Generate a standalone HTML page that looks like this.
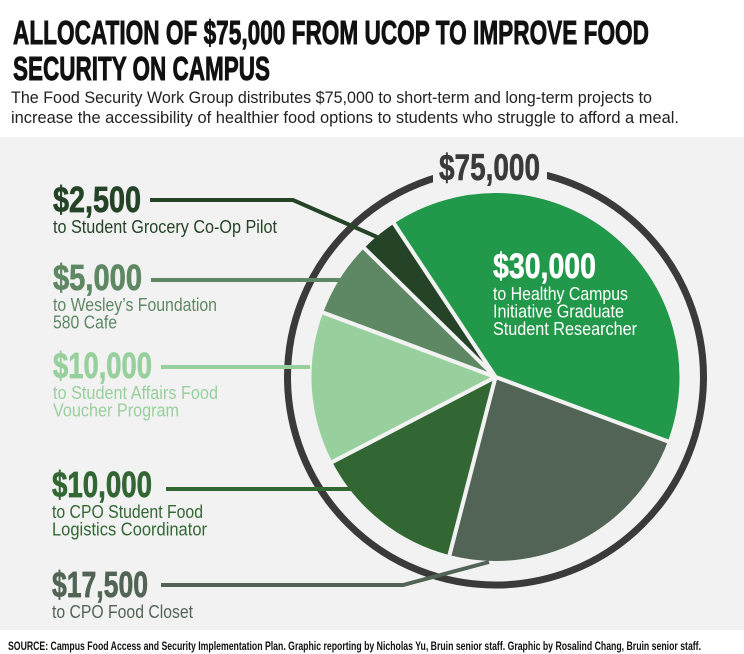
<!DOCTYPE html>
<html><head><meta charset="utf-8"><style>
html,body{margin:0;padding:0;background:#fff;}
svg{display:block;}
text{font-family:"Liberation Sans Narrow","Liberation Sans",sans-serif;}
</style></head><body>
<svg width="744" height="654" viewBox="0 0 744 654" xmlns="http://www.w3.org/2000/svg">
<rect x="0" y="0" width="744" height="654" fill="#fff"/>
<rect x="0" y="137" width="744" height="493" fill="#f2f2f2"/>
<text x="13" y="44" font-size="33" font-weight="bold" fill="#111" stroke="#111" stroke-width="0.9" textLength="636" lengthAdjust="spacingAndGlyphs">ALLOCATION OF $75,000 FROM UCOP TO IMPROVE FOOD</text>
<text x="13" y="80" font-size="33" font-weight="bold" fill="#111" stroke="#111" stroke-width="0.9" textLength="257" lengthAdjust="spacingAndGlyphs">SECURITY ON CAMPUS</text>
<text x="11" y="103" font-size="17" fill="#222" textLength="641" lengthAdjust="spacingAndGlyphs">The Food Security Work Group distributes $75,000 to short-term and long-term projects to</text>
<text x="11" y="123" font-size="17" fill="#222" textLength="668" lengthAdjust="spacingAndGlyphs">increase the accessibility of healthier food options to students who struggle to afford a meal.</text>
<g id="ring"></g>
<g id="pie"></g>
<g id="labels"></g>
<text x="8" y="650" font-size="11.5" font-weight="bold" fill="#111" textLength="693" lengthAdjust="spacingAndGlyphs">SOURCE: Campus Food Access and Security Implementation Plan. Graphic reporting by Nicholas Yu, Bruin senior staff. Graphic by Rosalind Chang, Bruin senior staff.</text>
</svg>
<script>
const categories = ["Healthy Campus Initiative Graduate Student Researcher","CPO Food Closet","CPO Student Food Logistics Coordinator","Student Affairs Food Voucher Program","Wesley's Foundation 580 Cafe","Student Grocery Co-Op Pilot"];
const amounts = [30000, 17500, 10000, 10000, 5000, 2500];
const amountLabels = ["$30,000","$17,500","$10,000","$10,000","$5,000","$2,500"];
const colors = ["#22984a","#526455","#326734","#98d09d","#5e8864","#254327"];
const totalLabel = "$75,000";

const NS="http://www.w3.org/2000/svg";
const cx=495.5, cy=377, r=186, startDeg=-33.5;
const total=amounts.reduce((a,b)=>a+b,0);
function pt(deg,rad){const a=deg*Math.PI/180;return [cx+rad*Math.sin(a), cy-rad*Math.cos(a)];}
function mk(tag,attrs,parent){const e=document.createElementNS(NS,tag);for(const k in attrs)e.setAttribute(k,attrs[k]);parent.appendChild(e);return e;}

const ring=document.getElementById('ring');
const rc=mk('circle',{cx:cx,cy:cy,r:208,fill:'none',stroke:'#3a3a3a','stroke-width':7},ring);


mk('rect',{x:433,y:140,width:114,height:50,fill:'#f2f2f2'},ring);
const tt=mk('text',{x:439,y:180,'font-size':37,'font-weight':'bold',fill:'#3a3a3a',stroke:'#3a3a3a','stroke-width':0.6,textLength:101,lengthAdjust:'spacingAndGlyphs'},ring);
tt.textContent=totalLabel;



const pie=document.getElementById('pie');
let ang=startDeg;
amounts.forEach((v,i)=>{
  const sweep=v/total*360;
  const p0=pt(ang,r), p1=pt(ang+sweep,r);
  const large=sweep>180?1:0;
  const p=mk('path',{d:`M${cx},${cy} L${p0[0]},${p0[1]} A${r},${r} 0 ${large} 1 ${p1[0]},${p1[1]} Z`,fill:colors[i],stroke:'#f2f2f2','stroke-width':4,'stroke-linejoin':'round'},pie);
  
  
  ang+=sweep;
});

const L=document.getElementById('labels');
const bl=mk('text',{x:493,y:278,'font-size':35,'font-weight':'bold',fill:'#fff',stroke:'#fff','stroke-width':0.6,textLength:103,lengthAdjust:'spacingAndGlyphs'},L);
bl.textContent=amountLabels[0];


const subs0=["to Healthy Campus","Initiative Graduate","Student Researcher"];
const subW0=[135,131,144];
subs0.forEach((s,j)=>{
  const t=mk('text',{x:493,y:300+j*17.5,'font-size':18,fill:'#fff',textLength:subW0[j],lengthAdjust:'spacingAndGlyphs'},L);
  t.textContent=s;
  
  
});

const callouts=[
 {i:5,x:53,y:212,w:88,lx:150,ly:200,pts:[[293,200],[377,237]],sub:["to Student Grocery Co-Op Pilot"],sw:[224]},
 {i:4,x:53,y:290,w:89,lx:151,ly:280,pts:[[340,280]],sub:["to Wesley\u2019s Foundation","580 Cafe"],sw:[164,64]},
 {i:3,x:53,y:378,w:99,lx:161,ly:367,pts:[[310,367]],sub:["to Student Affairs Food","Voucher Program"],sw:[165,126]},
 {i:2,x:52,y:497,w:100,lx:166,ly:489,pts:[[351,489]],sub:["to CPO Student Food","Logistics Coordinator"],sw:[151,155]},
 {i:1,x:52,y:597,w:96,lx:161,ly:585,pts:[[403,585],[489,562]],sub:["to CPO Food Closet"],sw:[141]}
];
callouts.forEach(c=>{
  const col=colors[c.i];
  const id=amountLabels[c.i].replace(/[$,]/g,'')+'-'+c.i;
  let d=`M${c.lx},${c.ly}`;c.pts.forEach(p=>d+=` L${p[0]},${p[1]}`);
  const ln=mk('path',{d:d,fill:'none',stroke:col,'stroke-width':4},L);
  
  
  const a=mk('text',{x:c.x,y:c.y,'font-size':36,'font-weight':'bold',fill:col,stroke:col,'stroke-width':0.7,textLength:c.w,lengthAdjust:'spacingAndGlyphs'},L);
  a.textContent=amountLabels[c.i];
  
  
  c.sub.forEach((s,j)=>{
    const t=mk('text',{x:c.x,y:c.y+21+j*17.5,'font-size':18,fill:col,textLength:c.sw[j],lengthAdjust:'spacingAndGlyphs'},L);
    t.textContent=s;
    
    
  });
});
</script>
</body></html>
